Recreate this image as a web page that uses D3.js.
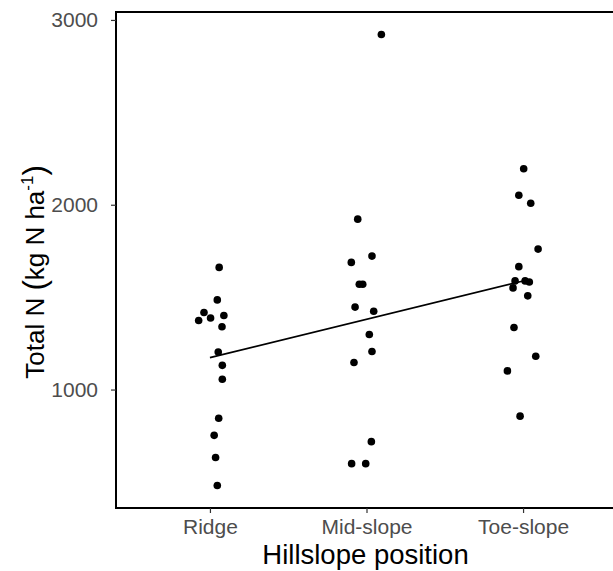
<!DOCTYPE html>
<html>
<head>
<meta charset="utf-8">
<script src="https://cdn.jsdelivr.net/npm/d3@7"></script>
<style>
  html, body { margin: 0; padding: 0; background: #fff; }
  svg { display: block; }
</style>
</head>
<body>
<svg id="chart" width="613" height="571"></svg>
<script>
// ---- data ----
const categories = ["Ridge", "Mid-slope", "Toe-slope"];
const ridgeValues = [1661, 1485, 1417, 1374, 1387, 1401, 1340, 1203, 1131, 1056, 845, 752, 632, 481];
const ridgeJitter = [0.059, 0.047, -0.038, -0.072, 0.004, 0.089, 0.077, 0.053, 0.079, 0.079, 0.056, 0.027, 0.036, 0.047];
const midValues = [2921, 1922, 1722, 1688, 1570, 1570, 1446, 1424, 1298, 1206, 1146, 718, 599, 599];
const midJitter = [0.095, -0.056, 0.035, -0.097, -0.046, -0.024, -0.073, 0.046, 0.018, 0.035, -0.080, 0.031, -0.095, -0.005];
const toeValues = [2195, 2051, 2008, 1760, 1665, 1588, 1588, 1582, 1550, 1507, 1336, 1180, 1101, 856];
const toeJitter = [0.004, -0.027, 0.049, 0.096, -0.027, -0.051, 0.013, 0.040, -0.064, 0.030, -0.058, 0.081, -0.100, -0.019];
const yTicks = [1000, 2000, 3000];
const xTitle = "Hillslope position";

// ---- build points ----
const groups = [ridgeValues, midValues, toeValues];
const jitters = [ridgeJitter, midJitter, toeJitter];
const points = [];
groups.forEach((vals, gi) => vals.forEach((v, i) => points.push({cat: categories[gi], idx: gi + 1, v, j: jitters[gi][i]})));

// ---- layout ----
const panel = {left: 116, right: 617, top: 12, bottom: 508};
const svg = d3.select("#chart");
const FONT = "Liberation Sans, Arial, sans-serif";

const x = d3.scalePoint().domain(categories).range([panel.left, panel.right]).padding(0.6);
const step = x.step();
const [vmin, vmax] = d3.extent(points, d => d.v);
const pad = (vmax - vmin) * 0.05;
const y = d3.scaleLinear().domain([vmin - pad, vmax + pad]).range([panel.bottom, panel.top]);

// points
svg.append("g").selectAll("circle").data(points).join("circle")
  .attr("cx", d => x(d.cat) + d.j * step)
  .attr("cy", d => y(d.v))
  .attr("r", 3.8)
  .attr("fill", "#000");

// linear regression on category index
const mx = d3.mean(points, d => d.idx), my = d3.mean(points, d => d.v);
const slope = d3.sum(points, d => (d.idx - mx) * (d.v - my)) / d3.sum(points, d => (d.idx - mx) ** 2);
const intercept = my - slope * mx;
const lineData = [1, 3].map(k => ({cat: categories[k - 1], v: intercept + slope * k}));
svg.append("path")
  .datum(lineData)
  .attr("d", d3.line().x(d => x(d.cat)).y(d => y(d.v)))
  .attr("fill", "none").attr("stroke", "#000").attr("stroke-width", 1.7);

// panel border
svg.append("rect")
  .attr("x", panel.left).attr("y", panel.top)
  .attr("width", panel.right - panel.left).attr("height", panel.bottom - panel.top)
  .attr("fill", "none").attr("stroke", "#000").attr("stroke-width", 2);

// y axis
const yAxis = svg.append("g").attr("transform", `translate(${panel.left},0)`)
  .call(d3.axisLeft(y).tickValues(yTicks).tickSize(5).tickPadding(13).tickFormat(d3.format("d")));
yAxis.select(".domain").remove();
yAxis.selectAll(".tick line").attr("stroke", "#333").attr("stroke-width", 1.2);
yAxis.selectAll(".tick text").attr("fill", "#4D4D4D").style("font-family", FONT).style("font-size", "21px");

// x axis
const xAxis = svg.append("g").attr("transform", `translate(0,${panel.bottom})`)
  .call(d3.axisBottom(x).tickSize(5).tickPadding(4));
xAxis.select(".domain").remove();
xAxis.selectAll(".tick line").attr("stroke", "#333").attr("stroke-width", 1.2);
xAxis.selectAll(".tick text").attr("fill", "#4D4D4D").attr("dy", null).attr("y", 26)
  .style("font-family", FONT).style("font-size", "21px");

// x title
svg.append("text")
  .attr("x", (panel.left + panel.right) / 2 - 1).attr("y", 564)
  .attr("text-anchor", "middle")
  .style("font-family", FONT).style("font-size", "27.5px")
  .attr("fill", "#000").text(xTitle);

// y title
const yt = svg.append("text")
  .attr("transform", `translate(44,272) rotate(-90)`)
  .attr("text-anchor", "middle")
  .style("font-family", FONT).style("font-size", "26px")
  .attr("fill", "#000");
yt.append("tspan").text("Total N ");
yt.append("tspan").style("font-size", "31px").attr("dy", 1).text("(");
yt.append("tspan").attr("dy", -1).text("kg N ha");
yt.append("tspan").style("font-size", "17px").attr("dy", -11).text("-1");
yt.append("tspan").style("font-size", "31px").attr("dy", 12).text(")");
</script>
</body>
</html>
